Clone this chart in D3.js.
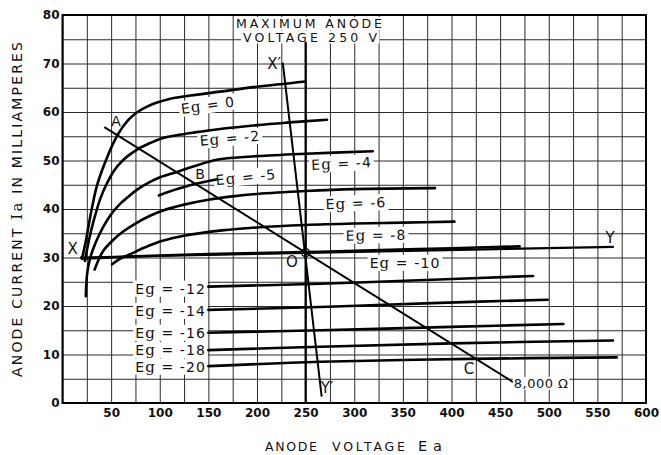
<!DOCTYPE html>
<html>
<head>
<meta charset="utf-8">
<script src="https://cdn.jsdelivr.net/npm/d3@7"></script>
<style>
  body { margin: 0; background: #fff; }
  svg { display: block; }
</style>
</head>
<body>
<div id="chart"></div>
<script>
// Triode anode characteristics (Ia vs Ea) with 8,000 ohm load line

const voltageTicks = [50, 100, 150, 200, 250, 300, 350, 400, 450, 500, 550, 600];
const currentTicks = [0, 10, 20, 30, 40, 50, 60, 70, 80];
const gridVoltages = d3.range(0, 601, 25);
const gridCurrents = d3.range(0, 81, 5);

// grid-voltage curves, [Ea volts, Ia mA]
const eg0 = [[20,29.7],[24,33.4],[29,38.9],[35,44.5],[40,47.6],[45,50.2],[50,52.6],[57,55.4],[67,58.2],[75,59.7],[82,60.6],[90,61.4],[98,62.0],[110,62.7],[128,63.3],[162,64.2],[200,65.2],[250,66.3]];
const egm2 = [[23,29.3],[27,33.4],[30,36],[34,39],[39,42.2],[45,45],[53,47.9],[60,49.6],[67,50.9],[78,52.4],[90,53.6],[101,54.5],[120,55.3],[136,55.8],[162,56.5],[200,57.3],[230,57.8],[272,58.4]];
const egm4 = [[24,22],[24.6,25],[25.7,27.2],[28,29.5],[31,31.5],[38,34.8],[50,38.9],[60,41.2],[67,42.4],[76,43.9],[90,45.6],[101,46.6],[117,47.6],[135,48.8],[160,50.2],[200,50.9],[250,51.4],[319,51.9]];
const egm5 = [[99,42.8],[118,44.1],[137,45.2],[158,46.1]];
const egm6 = [[33,27.5],[37,29.5],[42,31.4],[51,33.4],[62,35.3],[75,37],[90,38.6],[102,39.6],[125,40.9],[150,41.9],[175,42.6],[200,43.1],[250,43.7],[300,44.1],[383,44.3]];
const egm8 = [[51,28.6],[60,29.8],[72,30.9],[85,32.1],[102,33.4],[125,34.5],[164,35.6],[200,36.2],[250,36.7],[300,37],[350,37.2],[403,37.4]];
const egm10 = [[22,29.8],[60,30.1],[100,30.4],[150,30.7],[200,30.9],[250,31.1],[300,31.4],[400,31.9],[470,32.3]];
const egm12 = [[150,24],[265,24.6],[380,25.4],[484,26.2]];
const egm14 = [[150,19.2],[265,19.8],[380,20.6],[499,21.3]];
const egm16 = [[150,14.5],[265,15],[400,15.7],[515,16.3]];
const egm18 = [[150,10.9],[265,11.6],[400,12.3],[566,12.9]];
const egm20 = [[150,7.6],[265,8.5],[420,9.1],[570,9.4]];

const loadLine = [[43,56.9],[465,4.1]];      // 8,000 ohm
const xyLine = [[18,30.0],[567,32.2]];
const xyPrimeLine = [[226.5,70.2],[266.5,1.3]];
const maxVoltageLine = [[250,0],[250,74.5]];
const operatingPoint = [250, 31];

const curves = [eg0, egm2, egm4, egm5, egm6, egm8, egm10, egm12, egm14, egm16, egm18, egm20];

const width = 661, height = 455;

const x = d3.scaleLinear().domain([0, 600]).range([62.5, 646]);
const y = d3.scaleLinear().domain([0, 80]).range([403, 15]);

const svg = d3.select('#chart').append('svg')
    .attr('width', width)
    .attr('height', height)
    .style('font-family', 'DejaVu Sans');

// grid
const gx = svg.append('g')
    .attr('transform', `translate(0,${y(0)})`)
    .call(d3.axisBottom(x).tickValues(gridVoltages).tickSize(-(y(0) - y(80))).tickFormat(''));
const gy = svg.append('g')
    .attr('transform', `translate(${x(0)},0)`)
    .call(d3.axisLeft(y).tickValues(gridCurrents).tickSize(-(x(600) - x(0))).tickFormat(''));
[gx, gy].forEach(g => {
    g.select('.domain').remove();
    g.selectAll('line').attr('stroke', '#2a2a2a').attr('stroke-width', 1);
});

svg.append('rect')
    .attr('x', x(0)).attr('y', y(80))
    .attr('width', x(600) - x(0)).attr('height', y(0) - y(80))
    .attr('fill', 'none').attr('stroke', '#000').attr('stroke-width', 2);

// tick labels
const ay = svg.append('g')
    .attr('transform', `translate(${x(0)},0)`)
    .call(d3.axisLeft(y).tickValues(currentTicks).tickSize(0).tickPadding(3));
const ax = svg.append('g')
    .attr('transform', `translate(0,${y(0)})`)
    .call(d3.axisBottom(x).tickValues(voltageTicks).tickSize(0).tickPadding(5.5));
[ax, ay].forEach(g => {
    g.select('.domain').remove();
    g.selectAll('text')
        .style('font-family', 'DejaVu Sans')
        .style('font-size', '12px')
        .style('font-weight', 'bold')
        .attr('fill', '#111');
});

// labels with white backing
function backed(g, t, pad) {
    const b = t.node().getBBox();
    g.insert('rect', 'text')
        .attr('x', b.x - pad).attr('y', b.y + 1)
        .attr('width', b.width + pad * 2).attr('height', b.height - 2)
        .attr('fill', '#fff');
}

function egLabel(value, vx, vy, anchor, rot) {
    const g = svg.append('g')
        .attr('transform', `translate(${x(vx)},${y(vy)}) rotate(${rot})`);
    const t = g.append('text')
        .attr('text-anchor', anchor)
        .attr('dy', '0.36em')
        .style('font-size', '14px')
        .style('letter-spacing', '1.1px')
        .attr('fill', '#111');
    t.append('tspan').style('font-family', 'DejaVu Sans').text('E');
    t.append('tspan').style('font-family', 'DejaVu Serif').style('font-size', '15px').text('g');
    t.append('tspan').style('font-family', 'DejaVu Sans').text(value);
    backed(g, t, 2);
}

egLabel(' = 0', 149.6, 61.4, 'middle', -8);
egLabel(' = -2', 172.2, 54.6, 'middle', -5);
egLabel(' = -5', 188.7, 46.6, 'middle', -6);
egLabel(' = -4', 287, 49.4, 'middle', -3);
egLabel(' = -6', 301.8, 41.2, 'middle', -2);
egLabel(' = -8', 322.4, 34.6, 'middle', -1);
egLabel(' = -10', 352.2, 28.9, 'middle', 0);
egLabel(' = -12', 147.5, 23.6, 'end', 0);
egLabel(' = -14', 147.5, 19.0, 'end', 0);
egLabel(' = -16', 147.5, 14.5, 'end', 0);
egLabel(' = -18', 147.5, 10.9, 'end', 0);
egLabel(' = -20', 147.5, 7.5, 'end', 0);

// heading for the 250 V limit
const head = svg.append('g');
const h1 = head.append('text')
    .attr('x', 309).attr('y', 28)
    .attr('text-anchor', 'middle')
    .attr('textLength', 146).attr('lengthAdjust', 'spacing')
    .style('font-size', '12.5px').attr('fill', '#111')
    .text('MAXIMUM  ANODE');
const h2 = head.append('text')
    .attr('x', 310).attr('y', 41.5)
    .attr('text-anchor', 'middle')
    .attr('textLength', 134).attr('lengthAdjust', 'spacing')
    .style('font-size', '12.5px').attr('fill', '#111')
    .text('VOLTAGE  250 V');
backed(head, h1, 2);
backed(head, h2, 2);

// curves
const line = d3.line()
    .x(d => x(d[0]))
    .y(d => y(d[1]))
    .curve(d3.curveCatmullRom.alpha(0.5));

svg.append('g').selectAll('path')
    .data(curves)
    .join('path')
    .attr('d', line)
    .attr('fill', 'none')
    .attr('stroke', '#000')
    .attr('stroke-width', 2.6)
    .attr('stroke-linecap', 'round');

const straight = d3.line().x(d => x(d[0])).y(d => y(d[1]));
[[loadLine, 2], [xyLine, 2.2], [xyPrimeLine, 2], [maxVoltageLine, 2.2]].forEach(([d, w]) => {
    svg.append('path')
        .attr('d', straight(d))
        .attr('fill', 'none')
        .attr('stroke', '#000')
        .attr('stroke-width', w);
});

svg.append('circle')
    .attr('cx', x(operatingPoint[0])).attr('cy', y(operatingPoint[1]))
    .attr('r', 4)
    .attr('fill', 'none').attr('stroke', '#000').attr('stroke-width', 1.3);

// point letters
const letters = [
    ['A', 55, 58.1, 14], ['B', 141.4, 47.2, 14], ['C', 418, 7, 15],
    ['O', 236, 29.1, 15], ['X', 10.3, 31.8, 15], ['Y', 563, 34.1, 15],
    ['X\u2032', 217.5, 69.9, 15], ['Y\u2032', 272, 3.1, 15]
];
letters.forEach(([s, vx, vy, fs]) => {
    svg.append('text')
        .attr('x', x(vx)).attr('y', y(vy))
        .attr('dy', '0.36em')
        .attr('text-anchor', 'middle')
        .style('font-size', fs + 'px')
        .attr('fill', '#111')
        .text(s);
});

const ohm = svg.append('g');
const ot = ohm.append('text')
    .attr('x', x(464)).attr('y', y(4.1))
    .attr('dy', '0.36em')
    .style('font-size', '13px')
    .style('letter-spacing', '0.5px')
    .attr('fill', '#111')
    .text('8,000 \u03A9');
backed(ohm, ot, 1);

// axis titles
const yt = svg.append('text')
    .attr('transform', 'translate(21.5,209.5) rotate(-90)')
    .attr('text-anchor', 'middle')
    .attr('textLength', 335).attr('lengthAdjust', 'spacing')
    .style('font-size', '14px')
    .attr('fill', '#111');
yt.append('tspan').text('ANODE CURRENT  ');
yt.append('tspan').style('font-family', 'DejaVu Serif').style('font-size', '15px').text('Ia');
yt.append('tspan').text(' IN MILLIAMPERES');

const xt = svg.append('g').attr('fill', '#111');
xt.append('text').attr('x', 265).attr('y', 451)
    .attr('textLength', 52).attr('lengthAdjust', 'spacing')
    .style('font-size', '12.5px').text('ANODE');
xt.append('text').attr('x', 332).attr('y', 451)
    .attr('textLength', 73).attr('lengthAdjust', 'spacing')
    .style('font-size', '12.5px').text('VOLTAGE');
xt.append('text').attr('x', 418).attr('y', 451)
    .attr('textLength', 24).attr('lengthAdjust', 'spacing')
    .style('font-size', '14.5px').text('Ea');
</script>
</body>
</html>
